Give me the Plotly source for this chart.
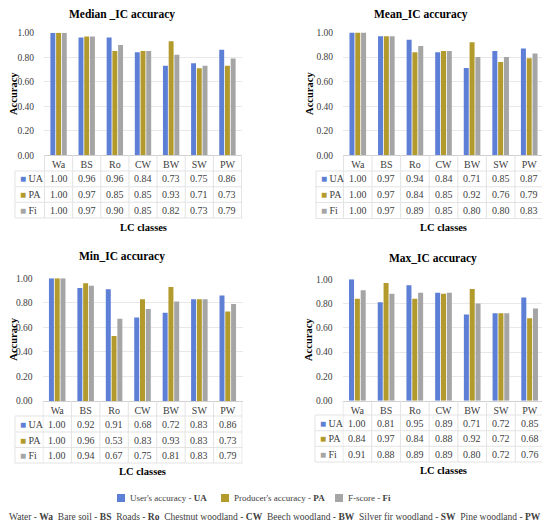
import plotly.graph_objects as go

# the page puts an 8px body margin around the figure, so the figure is drawn
# 8px smaller and every reference pixel position is shifted by OFF
OFF = 8
W, H = 550 - OFF, 525 - OFF

classes = ["Wa", "BS", "Ro", "CW", "BW", "SW", "PW"]
series_names = ["User's accuracy - <b>UA</b>", "Producer's accuracy - <b>PA</b>", "F-score - <b>Fi</b>"]
row_labels = ["UA", "PA", "Fi"]
colors = ["#5E7FD6", "#B39A2C", "#A5A5A5"]

median_ua = [1.00, 0.96, 0.96, 0.84, 0.73, 0.75, 0.86]
median_pa = [1.00, 0.97, 0.85, 0.85, 0.93, 0.71, 0.73]
median_fi = [1.00, 0.97, 0.90, 0.85, 0.82, 0.73, 0.79]

mean_ua = [1.00, 0.97, 0.94, 0.84, 0.71, 0.85, 0.87]
mean_pa = [1.00, 0.97, 0.84, 0.85, 0.92, 0.76, 0.79]
mean_fi = [1.00, 0.97, 0.89, 0.85, 0.80, 0.80, 0.83]

min_ua = [1.00, 0.92, 0.91, 0.68, 0.72, 0.83, 0.86]
min_pa = [1.00, 0.96, 0.53, 0.83, 0.93, 0.83, 0.73]
min_fi = [1.00, 0.94, 0.67, 0.75, 0.81, 0.83, 0.79]

max_ua = [1.00, 0.81, 0.95, 0.89, 0.71, 0.72, 0.85]
max_pa = [0.84, 0.97, 0.84, 0.88, 0.92, 0.72, 0.68]
max_fi = [0.91, 0.88, 0.89, 0.89, 0.80, 0.72, 0.76]

titles = ["Median _IC accuracy", "Mean_IC accuracy", "Min_IC accuracy", "Max_IC accuracy"]
panel_data = [
    [median_ua, median_pa, median_fi],
    [mean_ua, mean_pa, mean_fi],
    [min_ua, min_pa, min_fi],
    [max_ua, max_pa, max_fi],
]

abbrev = ("Water - <b>Wa</b>  Bare soil - <b>BS</b>  Roads - <b>Ro</b>  "
          "Chestnut woodland - <b>CW</b>  Beech woodland - <b>BW</b>  "
          "Silver fir woodland - <b>SW</b>  Pine woodland - <b>PW</b>")

# panel geometry in reference pixels: axis left/right, y of 1.00 and 0.00, table rows, etc.
geo = [
    dict(x0=44, x1=242, yt=32.7, yb=155.3, rows=[179, 194.5, 210], key=18, title=(122, 14), ylab=14, lc=227),
    dict(x0=343, x1=544, yt=32.5, yb=155.3, rows=[179, 194.5, 210.5], key=319, title=(421, 14), ylab=310, lc=228),
    dict(x0=42.5, x1=242.5, yt=278.3, yb=401, rows=[424, 440, 455], key=18, title=(122, 256), ylab=14, lc=471),
    dict(x0=342.5, x1=544.5, yt=279.3, yb=400.7, rows=[423, 438.5, 454], key=318, title=(433, 258), ylab=308, lc=470),
]
legend_x = [117, 221, 335]
legend_y = 498

FONT = "Liberation Serif"
TXT = "#404040"
LINE = "#E3E3E3"


def px(x):
    return (x - OFF) / W


def py(y):
    return 1 - (y - OFF) / H


def note(text, x, y, size, color=TXT, xref="paper", xanchor="center", angle=0):
    return dict(text=text, x=x, y=y, xref=xref, yref="paper", xanchor=xanchor, yanchor="middle",
                showarrow=False, textangle=angle, font=dict(family=FONT, size=size, color=color))


fig = go.Figure()
annotations = []
shapes = []

for i, (vals, g) in enumerate(zip(panel_data, geo)):
    n = "" if i == 0 else str(i + 1)
    xa, ya = "x" + n, "y" + n
    for j in range(3):
        fig.add_trace(go.Bar(
            x=classes, y=vals[j], name=series_names[j],
            marker=dict(color=colors[j], line=dict(width=0)),
            xaxis=xa, yaxis=ya, showlegend=False, legendgroup=str(j),
            hoverinfo="y",
        ))
    fig.update_layout({
        "xaxis" + n: dict(domain=[px(g["x0"]), px(g["x1"])], anchor=ya, automargin=False,
                          showline=True, linecolor="#D0D0D0", linewidth=1,
                          ticks="", tickfont=dict(family=FONT, size=10, color=TXT),
                          showgrid=False),
        "yaxis" + n: dict(domain=[py(g["yb"]), py(g["yt"])], anchor=xa, automargin=False,
                          range=[0, 1], dtick=0.2, tickformat=".2f",
                          showgrid=True, gridcolor="#E8E8E8", zeroline=False,
                          tickfont=dict(family=FONT, size=9.5, color=TXT),
                          ticklabelstandoff=9),
    })

    # title, axis titles
    annotations.append(note("<b>" + titles[i] + "</b>", px(g["title"][0]), py(g["title"][1]), 11.5, "#000000"))
    annotations.append(note("<b>Accuracy</b>", px(g["ylab"]), py((g["yt"] + g["yb"]) / 2), 10.5,
                            "#000000", angle=-90))
    annotations.append(note("<b>LC classes</b>", px((g["x0"] + g["x1"]) / 2), py(g["lc"]), 10.5, "#000000"))

    # data table under the chart
    for j in range(3):
        ry = g["rows"][j]
        annotations.append(note('<span style="color:%s">■</span> %s' % (colors[j], row_labels[j]),
                                px(g["key"]), py(ry), 10, xanchor="left"))
        for c, v in zip(classes, vals[j]):
            annotations.append(note("%.2f" % v, c, py(ry), 10, xref=xa))

    top = g["yb"]
    bot = g["rows"][2] + 8
    r1 = g["rows"][0] - 8
    for k in range(len(classes) + 1):
        shapes.append(dict(type="line", xref=xa, yref="paper", x0=k - 0.5, x1=k - 0.5,
                           y0=py(top), y1=py(bot), line=dict(color=LINE, width=1)))
    shapes.append(dict(type="line", xref="paper", yref="paper", x0=px(g["key"] - 3), x1=px(g["key"] - 3),
                       y0=py(r1), y1=py(bot), line=dict(color=LINE, width=1)))
    for yy in [r1, (g["rows"][0] + g["rows"][1]) / 2, (g["rows"][1] + g["rows"][2]) / 2, bot]:
        shapes.append(dict(type="line", xref="paper", yref="paper", x0=px(g["key"] - 3), x1=px(g["x1"]),
                           y0=py(yy), y1=py(yy), line=dict(color=LINE, width=1)))

# legend: colour keys with their labels
for j in range(3):
    lx = legend_x[j]
    shapes.append(dict(type="rect", xref="paper", yref="paper", x0=px(lx), x1=px(lx + 8),
                       y0=py(legend_y + 4), y1=py(legend_y - 4), fillcolor=colors[j], line=dict(width=0)))
    annotations.append(note(series_names[j], px(lx + 11), py(legend_y), 9, xanchor="left"))

annotations.append(note(abbrev, px(275), py(517), 9.5))

fig.update_layout(
    width=W, height=H,
    margin=dict(l=0, r=0, t=0, b=0, autoexpand=False),
    paper_bgcolor="white", plot_bgcolor="white",
    barmode="group", bargap=0.39, bargroupgap=0.14,
    font=dict(family=FONT, color=TXT),
    annotations=annotations, shapes=shapes,
    showlegend=False,
)

fig.write_html("out.html")
